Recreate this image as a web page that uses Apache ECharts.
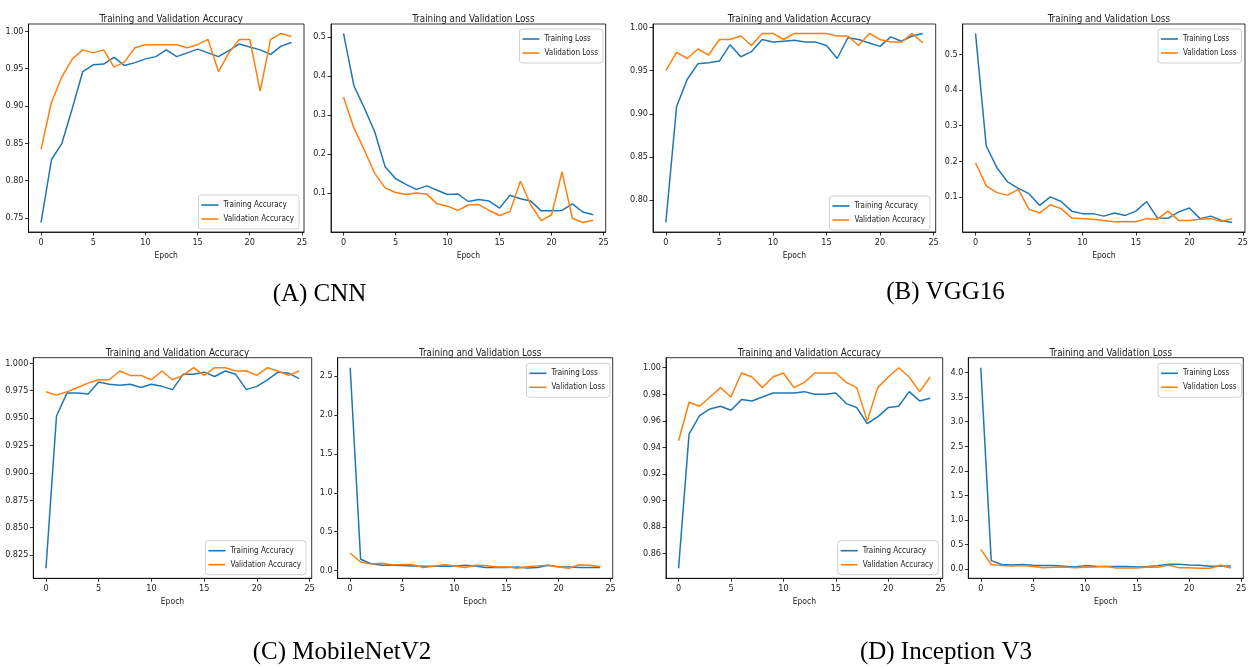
<!DOCTYPE html>
<html>
<head>
<meta charset="utf-8">
<script src="https://cdn.jsdelivr.net/npm/echarts@6/dist/echarts.min.js"></script>
<style>html,body{margin:0;padding:0;background:#fff}#c{width:1251px;height:669px}</style>
</head>
<body>
<div id="c"></div>
<script>
// ---------------- data ----------------
const epochs = [0,1,2,3,4,5,6,7,8,9,10,11,12,13,14,15,16,17,18,19,20,21,22,23,24];
const xTicks = [0,5,10,15,20,25];

const cnnTrainAcc = [0.744,0.828,0.850,0.897,0.946,0.955,0.956,0.965,0.954,0.958,0.963,0.966,0.975,0.966,0.971,0.976,0.971,0.966,0.974,0.983,0.979,0.975,0.969,0.980,0.985];
const cnnValAcc   = [0.842,0.905,0.939,0.963,0.975,0.971,0.975,0.952,0.959,0.978,0.982,0.982,0.982,0.982,0.978,0.982,0.989,0.946,0.971,0.989,0.989,0.920,0.989,0.997,0.993];
const cnnTrainLoss = [0.509,0.375,0.318,0.257,0.167,0.137,0.122,0.109,0.118,0.107,0.096,0.097,0.078,0.083,0.079,0.061,0.094,0.085,0.079,0.054,0.054,0.055,0.072,0.051,0.044];
const cnnValLoss   = [0.346,0.266,0.210,0.150,0.113,0.101,0.096,0.100,0.097,0.072,0.066,0.055,0.069,0.070,0.055,0.042,0.052,0.130,0.069,0.029,0.044,0.154,0.035,0.024,0.030];

const vggTrainAcc = [0.774,0.908,0.940,0.958,0.959,0.961,0.980,0.966,0.972,0.986,0.983,0.984,0.985,0.983,0.983,0.979,0.964,0.988,0.986,0.982,0.978,0.989,0.984,0.990,0.993];
const vggValAcc   = [0.950,0.971,0.964,0.975,0.968,0.986,0.986,0.990,0.979,0.993,0.993,0.986,0.993,0.993,0.993,0.993,0.990,0.990,0.979,0.993,0.986,0.983,0.983,0.993,0.982];
const vggTrainLoss = [0.559,0.243,0.182,0.142,0.124,0.109,0.076,0.100,0.087,0.060,0.053,0.053,0.046,0.055,0.048,0.060,0.087,0.041,0.040,0.058,0.069,0.039,0.046,0.034,0.028];
const vggValLoss   = [0.196,0.131,0.112,0.105,0.121,0.065,0.055,0.078,0.067,0.041,0.039,0.037,0.034,0.030,0.031,0.030,0.039,0.037,0.060,0.034,0.034,0.037,0.039,0.031,0.039];

const mobTrainAcc = [0.813,0.952,0.973,0.973,0.972,0.983,0.981,0.980,0.981,0.978,0.981,0.979,0.976,0.990,0.990,0.992,0.988,0.993,0.990,0.976,0.979,0.985,0.992,0.991,0.986];
const mobValAcc   = [0.974,0.971,0.974,0.978,0.982,0.985,0.985,0.993,0.989,0.989,0.985,0.993,0.985,0.989,0.996,0.989,0.996,0.996,0.993,0.993,0.989,0.996,0.993,0.989,0.993];
const mobTrainLoss = [2.607,0.146,0.090,0.069,0.070,0.065,0.060,0.055,0.055,0.060,0.055,0.070,0.060,0.040,0.040,0.040,0.045,0.035,0.040,0.070,0.050,0.045,0.040,0.040,0.040];
const mobValLoss   = [0.223,0.110,0.085,0.095,0.075,0.077,0.077,0.040,0.055,0.077,0.060,0.040,0.070,0.065,0.045,0.050,0.030,0.050,0.060,0.070,0.047,0.030,0.075,0.070,0.050];

const incTrainAcc = [0.849,0.950,0.964,0.969,0.971,0.968,0.976,0.975,0.978,0.981,0.981,0.981,0.982,0.980,0.980,0.981,0.973,0.970,0.958,0.963,0.970,0.971,0.982,0.975,0.977];
const incValAcc   = [0.945,0.974,0.971,0.978,0.985,0.978,0.996,0.993,0.985,0.993,0.996,0.985,0.989,0.996,0.996,0.996,0.989,0.985,0.960,0.985,0.993,1.000,0.993,0.982,0.993];
const incTrainLoss = [4.10,0.170,0.090,0.082,0.090,0.075,0.068,0.068,0.055,0.040,0.068,0.055,0.048,0.048,0.048,0.040,0.048,0.068,0.095,0.095,0.082,0.075,0.055,0.055,0.060];
const incValLoss   = [0.400,0.090,0.068,0.060,0.068,0.048,0.027,0.034,0.040,0.027,0.034,0.040,0.048,0.020,0.020,0.020,0.040,0.034,0.082,0.027,0.027,0.014,0.014,0.075,0.020];

const accTicksCnn = [0.75,0.80,0.85,0.90,0.95,1.00];
const accTicksVgg = [0.80,0.85,0.90,0.95,1.00];
const accTicksMob = [0.825,0.850,0.875,0.900,0.925,0.950,0.975,1.000];
const accTicksInc = [0.86,0.88,0.90,0.92,0.94,0.96,0.98,1.00];
const lossTicksCnn = [0.1,0.2,0.3,0.4,0.5];
const lossTicksVgg = [0.1,0.2,0.3,0.4,0.5];
const lossTicksMob = [0.0,0.5,1.0,1.5,2.0,2.5];
const lossTicksInc = [0.0,0.5,1.0,1.5,2.0,2.5,3.0,3.5,4.0];

const accTitle = 'Training and Validation Accuracy';
const lossTitle = 'Training and Validation Loss';
const accNames = ['Training Accuracy','Validation Accuracy'];
const lossNames = ['Training Loss','Validation Loss'];
const captions = ['(A) CNN','(B) VGG16','(C) MobileNetV2','(D) Inception V3'];

// ---------------- layout ----------------
const FONT = "'Liberation Sans Narrow','DejaVu Sans Condensed','Arial Narrow',sans-serif";
const BLUE = '#1f77b4', ORANGE = '#ff7f0e';

const panels = [
  {title:accTitle, names:accNames, tr:cnnTrainAcc, va:cnnValAcc, ticks:accTicksCnn, dec:2,
   grid:{left:28.5,top:24,width:275.5,height:208}, legend:{right:952,top:195}},
  {title:lossTitle, names:lossNames, tr:cnnTrainLoss, va:cnnValLoss, ticks:lossTicksCnn, dec:1,
   grid:{left:331,top:24,width:274.7,height:208}, legend:{right:648,top:29}},
  {title:accTitle, names:accNames, tr:vggTrainAcc, va:vggValAcc, ticks:accTicksVgg, dec:2,
   grid:{left:653,top:24,width:282.7,height:208}, legend:{right:321,top:196}},
  {title:lossTitle, names:lossNames, tr:vggTrainLoss, va:vggValLoss, ticks:lossTicksVgg, dec:1,
   grid:{left:962.7,top:24,width:282.3,height:208}, legend:{right:9.5,top:29}},
  {title:accTitle, names:accNames, tr:mobTrainAcc, va:mobValAcc, ticks:accTicksMob, dec:3,
   grid:{left:33.3,top:357.7,width:278.4,height:220.6}, legend:{right:945,top:540.7}},
  {title:lossTitle, names:lossNames, tr:mobTrainLoss, va:mobValLoss, ticks:lossTicksMob, dec:1,
   grid:{left:337.7,top:357.7,width:275,height:220.6}, legend:{right:641,top:363.3}},
  {title:accTitle, names:accNames, tr:incTrainAcc, va:incValAcc, ticks:accTicksInc, dec:2,
   grid:{left:666,top:357.7,width:276.7,height:220.6}, legend:{right:312.7,top:540.7}},
  {title:lossTitle, names:lossNames, tr:incTrainLoss, va:incValLoss, ticks:lossTicksInc, dec:1,
   grid:{left:968.3,top:357.7,width:275,height:220.6}, legend:{right:9.5,top:363.3}}
];
const captionPos = [[319.5,294],[945.5,292.5],[342,652],[946,652]];

const option = {animation:false, backgroundColor:'#fff',
  title:[], grid:[], xAxis:[], yAxis:[], legend:[], series:[], graphic:[]};

panels.forEach((p,i)=>{
  const all = p.tr.concat(p.va);
  const lo = Math.min(...all), hi = Math.max(...all), pad = (hi-lo)*0.05;
  option.grid.push(Object.assign({show:true, borderColor:'#000', borderWidth:0.8, backgroundColor:'transparent'}, p.grid));
  option.title.push({text:p.title, left:p.grid.left+p.grid.width/2, top:p.grid.top-14.5, textAlign:'center',
    textStyle:{fontFamily:FONT, fontSize:9.8, fontWeight:'normal', color:'#222'}});
  option.xAxis.push({type:'value', gridIndex:i, min:-1.2, max:25.2,
    name:'Epoch', nameLocation:'middle', nameGap:19,
    nameTextStyle:{fontFamily:FONT, fontSize:8.5, color:'#222'},
    axisLine:{show:true, onZero:false, lineStyle:{color:'#000', width:0.8}},
    axisTick:{show:true, length:3.5, lineStyle:{color:'#000', width:0.8}, customValues:xTicks},
    axisLabel:{fontFamily:FONT, fontSize:9, color:'#222', margin:6, customValues:xTicks, formatter:v=>String(v)},
    splitLine:{show:false}});
  option.yAxis.push({type:'value', gridIndex:i, min:lo-pad, max:hi+pad,
    axisLine:{show:true, onZero:false, lineStyle:{color:'#000', width:0.8}},
    axisTick:{show:true, length:3.5, lineStyle:{color:'#000', width:0.8}, customValues:p.ticks},
    axisLabel:{fontFamily:FONT, fontSize:9, color:'#222', margin:5, customValues:p.ticks, formatter:v=>Number(v).toFixed(p.dec)},
    splitLine:{show:false}});
  option.legend.push(Object.assign({orient:'vertical', data:p.names, icon:'rect', itemWidth:17, itemHeight:1.6, itemGap:4,
    padding:[5,5,5,3], borderColor:'#d0d0d0', borderWidth:1, borderRadius:3, backgroundColor:'rgba(255,255,255,0.85)',
    textStyle:{fontFamily:FONT, fontSize:8, color:'#222', lineHeight:10}, selectedMode:false}, p.legend));
  [[p.tr,BLUE,p.names[0]],[p.va,ORANGE,p.names[1]]].forEach(([arr,col,nm])=>{
    option.series.push({type:'line', name:nm, xAxisIndex:i, yAxisIndex:i, symbol:'none',
      data:epochs.map((e,k)=>[e,arr[k]]), color:col, lineStyle:{color:col, width:1.5}, z:2});
  });
});

captions.forEach((t,i)=>{
  option.graphic.push({type:'text', x:captionPos[i][0], y:captionPos[i][1],
    style:{text:t, textAlign:'center', textVerticalAlign:'middle',
      font:"25px 'Liberation Serif','Times New Roman',serif", fill:'#000'}});
});

const chart = echarts.init(document.getElementById('c'), null, {renderer:'canvas', width:1251, height:669});
chart.setOption(option);
</script>
</body>
</html>
